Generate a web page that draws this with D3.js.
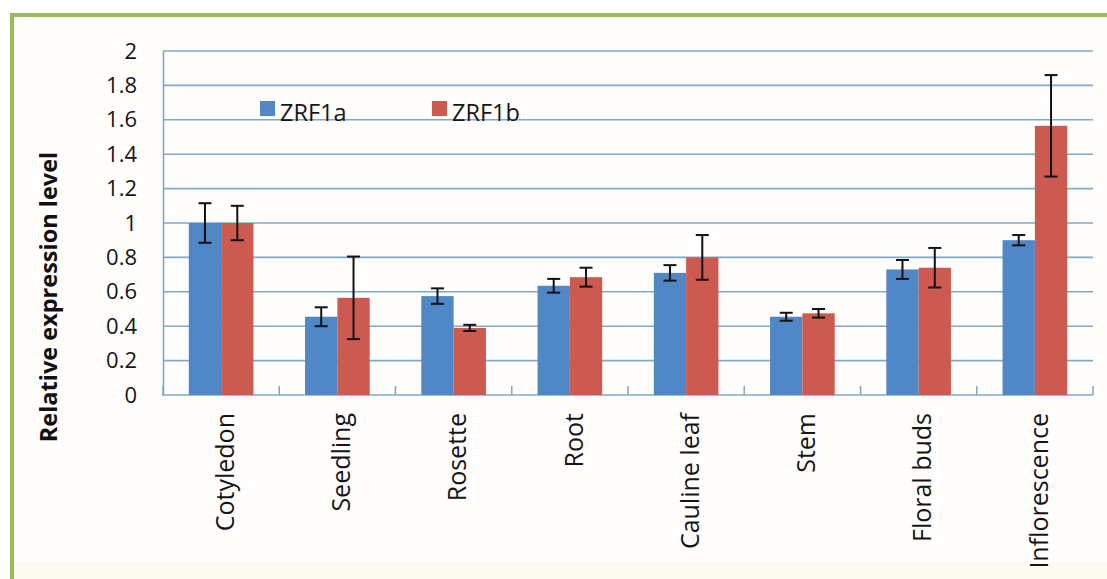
<!DOCTYPE html>
<html><head><meta charset="utf-8">
<script src="https://cdn.jsdelivr.net/npm/d3@7"></script>
<style>
html,body{margin:0;padding:0;background:#fff;}
svg{display:block;font-family:"Open Sans",sans-serif;}
</style></head>
<body><svg id="c" width="1107" height="579"></svg>
<script>
const categories = ["Cotyledon","Seedling","Rosette","Root","Cauline leaf","Stem","Floral buds","Inflorescence"];
const seriesNames = ["ZRF1a","ZRF1b"];
const zrf1a = [1.00, 0.455, 0.575, 0.635, 0.71, 0.455, 0.73, 0.90];
const zrf1b = [1.00, 0.565, 0.39, 0.685, 0.80, 0.475, 0.74, 1.565];
const zrf1aErr = [0.115, 0.055, 0.045, 0.04, 0.045, 0.023, 0.055, 0.03];
const zrf1bErr = [0.10, 0.24, 0.018, 0.055, 0.13, 0.025, 0.115, 0.295];
const yTicks = [0,0.2,0.4,0.6,0.8,1,1.2,1.4,1.6,1.8,2];
const colors = ["#4f87c7","#cd5a50"];

const svg = d3.select("#c");
// frame
svg.append("rect").attr("x",15).attr("y",17).attr("width",1092).attr("height",562).attr("fill","#fffefc");
svg.append("rect").attr("x",15).attr("y",562).attr("width",1092).attr("height",17).attr("fill","#fcfbef");
svg.append("rect").attr("x",10).attr("y",13).attr("width",4).attr("height",566).attr("fill","#9bbb59");
svg.append("rect").attr("x",10).attr("y",13).attr("width",1097).attr("height",4).attr("fill","#9bbb59");

const x0 = d3.scaleBand().domain(categories).range([163,1093]).paddingInner(0.444).paddingOuter(0.222);
const x1 = d3.scaleBand().domain(seriesNames).range([0,x0.bandwidth()]);
const y = d3.scaleLinear().domain([0,2]).range([395,51]);
const step = x0.step();

// gridlines
svg.append("g").selectAll("line").data(yTicks.filter(d=>d>0)).join("line")
  .attr("x1",163).attr("x2",1093).attr("y1",d=>y(d)).attr("y2",d=>y(d))
  .attr("stroke","#7faac6").attr("stroke-width",1.6);

// y axis
const yAxis = d3.axisLeft(y).tickValues(yTicks).tickSize(0).tickPadding(26).tickFormat(d=>String(d));
const gy = svg.append("g").attr("transform","translate(163,0)").call(yAxis);
gy.select(".domain").attr("stroke","#7faac6").attr("stroke-width",1.6);
gy.selectAll("text").attr("font-size",22).attr("fill","#151515").attr("font-family","Open Sans");

// x axis line and ticks
svg.append("line").attr("x1",162).attr("x2",1093).attr("y1",395).attr("y2",395).attr("stroke","#7faac6").attr("stroke-width",1.6);
svg.append("g").selectAll("line").data(d3.range(categories.length+1)).join("line")
  .attr("x1",i=>163+i*step).attr("x2",i=>163+i*step).attr("y1",395).attr("y2",386)
  .attr("stroke","#7faac6").attr("stroke-width",1.6);

// bars
const data = categories.map((c,i)=>({c, vals:[{s:"ZRF1a",v:zrf1a[i],e:zrf1aErr[i],k:0},{s:"ZRF1b",v:zrf1b[i],e:zrf1bErr[i],k:1}]}));
const grp = svg.append("g").selectAll("g").data(data).join("g").attr("transform",d=>`translate(${x0(d.c)},0)`);
grp.selectAll("rect").data(d=>d.vals).join("rect")
  .attr("x",d=>x1(d.s)).attr("width",x1.bandwidth()).attr("y",d=>y(d.v)).attr("height",d=>y(0)-y(d.v))
  .attr("fill",d=>colors[d.k]);
// error bars
const eb = grp.selectAll("g.eb").data(d=>d.vals).join("g").attr("class","eb")
  .attr("transform",d=>`translate(${x1(d.s)+x1.bandwidth()/2},0)`);
eb.append("line").attr("y1",d=>y(d.v+d.e)).attr("y2",d=>y(d.v-d.e)).attr("stroke","#111").attr("stroke-width",2);
eb.append("line").attr("x1",-6.5).attr("x2",6.5).attr("y1",d=>y(d.v+d.e)).attr("y2",d=>y(d.v+d.e)).attr("stroke","#111").attr("stroke-width",2);
eb.append("line").attr("x1",-6.5).attr("x2",6.5).attr("y1",d=>y(d.v-d.e)).attr("y2",d=>y(d.v-d.e)).attr("stroke","#111").attr("stroke-width",2);

// x labels
svg.append("g").selectAll("text").data(categories).join("text")
  .attr("transform",d=>`translate(${x0(d)+x0.bandwidth()/2+4},413) rotate(-90)`)
  .attr("text-anchor","end").attr("dy","0.35em")
  .attr("font-size",25).attr("fill","#151515").text(d=>d);

// y title
svg.append("text").attr("transform","translate(49,297) rotate(-90)")
  .attr("text-anchor","middle").attr("dy","0.35em")
  .attr("font-size",23.5).attr("font-weight","bold").attr("fill","#111").text("Relative expression level");

// legend
const legX = [260,432];
const leg = svg.append("g").selectAll("g").data(seriesNames).join("g")
  .attr("transform",(d,i)=>`translate(${legX[i]},101)`);
leg.append("rect").attr("width",15).attr("height",15).attr("fill",(d,i)=>colors[i]);
leg.append("text").attr("x",20).attr("y",20).attr("font-size",23.5).attr("fill","#151515").text(d=>d);
</script></body></html>
